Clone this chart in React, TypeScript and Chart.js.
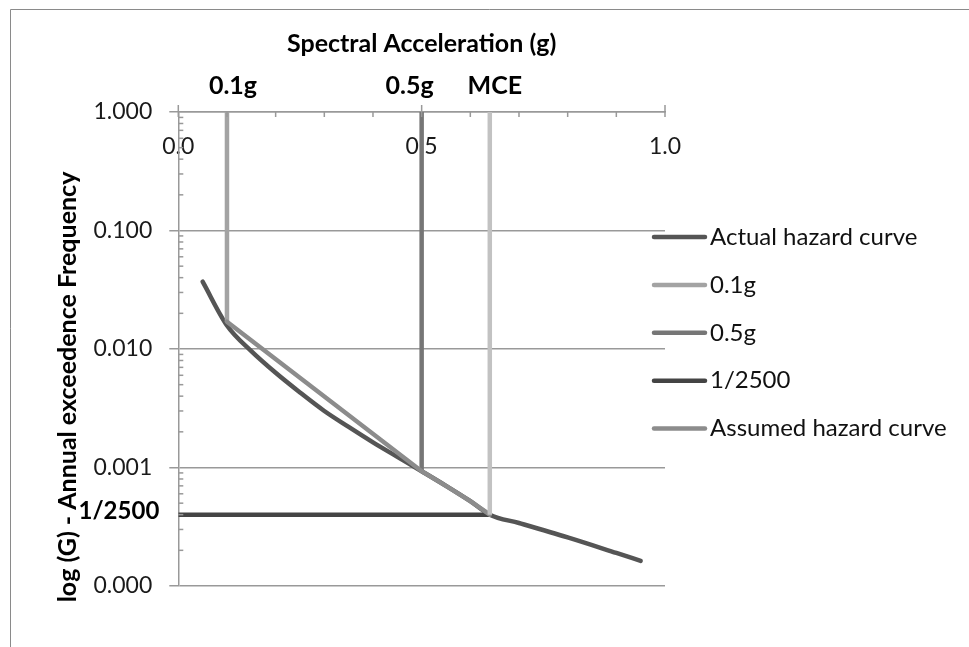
import React, { useEffect, useRef } from 'react';
import { Chart, registerables } from 'chart.js';
Chart.register(...registerables);

// ---- data ----
const accel = [0.05, 0.1, 0.15, 0.2, 0.25, 0.3, 0.35, 0.4, 0.45, 0.5, 0.55, 0.6, 0.64, 0.7, 0.8, 0.9, 0.95];
const actualFreq = [0.037, 0.0158, 0.0096, 0.0063, 0.0043, 0.003, 0.0022, 0.00163, 0.00123, 0.00093, 0.0007, 0.00052, 0.0004, 0.00034, 0.000257, 0.00019, 0.000163];
const assumedAccel = [0.1, 0.5, 0.55, 0.6, 0.64];
const assumedFreq = [0.017, 0.00093, 0.0007, 0.00052, 0.0004];
const markerLabels = ['0.1g', '0.5g', 'MCE'];
const markerAccel = [0.1, 0.5, 0.64];
const markerFreq = [0.017, 0.00093, 0.0004];
const topFreq = 1;
const designFreq = 1 / 2500;
const designLabel = '1/2500';
const yTickValues = [1, 0.1, 0.01, 0.001, 0.0001];
const xTickLabels = ['0.0', '0.5', '1.0'];
const seriesNames = ['Actual hazard curve', '0.1g', '0.5g', '1/2500', 'Assumed hazard curve', 'MCE'];
const xTitle = 'Spectral Acceleration (g)';
const yTitle = 'log (G) - Annual exceedence Frequency';

const FONT = 'Lato';
const isDecade = (v: number) => {
  if (!(v > 0)) return false;
  const l = Math.log10(v);
  return Math.abs(l - Math.round(l)) < 1e-6;
};

const framePlugin = {
  id: 'frame',
  beforeDraw(chart: any) {
    const { ctx, width, height } = chart;
    ctx.save();
    ctx.fillStyle = '#fff';
    ctx.fillRect(0, 0, width, height);
    ctx.strokeStyle = '#8a8a8a';
    ctx.lineWidth = 1;
    ctx.beginPath();
    ctx.moveTo(10.5, height);
    ctx.lineTo(10.5, 9.5);
    ctx.lineTo(width, 9.5);
    ctx.stroke();
    ctx.restore();
  },
};

const extrasPlugin = {
  id: 'extras',
  afterDraw(chart: any) {
    const { ctx, chartArea } = chart;
    const xs = chart.scales.x;
    const ys = chart.scales.y;
    ctx.save();
    ctx.strokeStyle = '#999';
    ctx.lineWidth = 1.5;
    // x axis ticks (top)
    for (let i = 0; i <= 10; i++) {
      const v = i / 10;
      const px = xs.getPixelForValue(v);
      const major = i % 5 === 0;
      ctx.beginPath();
      ctx.moveTo(px, chartArea.top - (major ? 7 : 0));
      ctx.lineTo(px, chartArea.top + 5);
      ctx.stroke();
    }
    // y minor ticks (inside)
    for (let e = -4; e < 0; e++) {
      for (let m = 2; m <= 9; m++) {
        const py = ys.getPixelForValue(m * Math.pow(10, e));
        ctx.beginPath();
        ctx.moveTo(chartArea.left, py);
        ctx.lineTo(chartArea.left + 5, py);
        ctx.stroke();
      }
    }
    // marker labels
    const offs = [6, -12, 5];
    ctx.fillStyle = '#000';
    ctx.font = `bold 25px ${FONT}`;
    ctx.textAlign = 'center';
    ctx.textBaseline = 'middle';
    markerLabels.forEach((lab, i) => {
      ctx.fillText(lab, xs.getPixelForValue(markerAccel[i]) + offs[i], 86);
    });
    // y title
    ctx.save();
    ctx.translate(67.5, 387);
    ctx.rotate(-Math.PI / 2);
    ctx.textAlign = 'center';
    ctx.fillText(yTitle, 0, 0);
    ctx.restore();
    // 1/2500 label
    ctx.font = `bold 24px ${FONT}`;
    ctx.textAlign = 'right';
    ctx.fillText(designLabel, xs.getPixelForValue(0) - 19, ys.getPixelForValue(designFreq) - 3);
    // legend
    const items = chart.data.datasets.filter((d: any) => d.inLegend);
    ctx.font = `24px ${FONT}`;
    ctx.textAlign = 'left';
    ctx.lineCap = 'round';
    items.forEach((d: any, i: number) => {
      const y = 237 + i * 47.9;
      ctx.strokeStyle = d.borderColor;
      ctx.lineWidth = 4.5;
      ctx.beginPath();
      ctx.moveTo(654, y);
      ctx.lineTo(705, y);
      ctx.stroke();
      ctx.fillStyle = '#111';
      ctx.fillText(d.label, 710, y);
    });
    ctx.restore();
  },
};

export default function App() {
  const ref = useRef<HTMLCanvasElement>(null);
  useEffect(() => {
    if (!ref.current) return;
    const pts = (xsArr: number[], ysArr: number[]) => xsArr.map((x, i) => ({ x, y: ysArr[i] }));
    const chart = new Chart(ref.current, {
      type: 'line',
      data: {
        datasets: [
          { label: seriesNames[0], data: pts(accel, actualFreq), borderColor: '#555555', borderWidth: 4.5, cubicInterpolationMode: 'monotone', borderCapStyle: 'round', pointRadius: 0, order: 6, inLegend: true } as any,
          { label: seriesNames[1], data: pts([markerAccel[0], markerAccel[0]], [topFreq, markerFreq[0]]), borderColor: '#a3a3a3', borderWidth: 4.5, pointRadius: 0, order: 5, inLegend: true } as any,
          { label: seriesNames[2], data: pts([markerAccel[1], markerAccel[1]], [topFreq, markerFreq[1]]), borderColor: '#767676', borderWidth: 4.5, pointRadius: 0, order: 4, inLegend: true } as any,
          { label: seriesNames[3], data: pts([0, markerAccel[2]], [designFreq, designFreq]), borderColor: '#444444', borderWidth: 4.5, pointRadius: 0, order: 3, inLegend: true } as any,
          { label: seriesNames[4], data: pts(assumedAccel, assumedFreq), borderColor: '#8c8c8c', borderWidth: 4.5, tension: 0, borderCapStyle: 'round', pointRadius: 0, order: 2, inLegend: true } as any,
          { label: seriesNames[5], data: pts([markerAccel[2], markerAccel[2]], [topFreq, markerFreq[2]]), borderColor: '#c2c2c2', borderWidth: 4.5, pointRadius: 0, order: 1, inLegend: false } as any,
        ],
      },
      options: {
        responsive: false,
        animation: false,
        events: [],
        layout: { padding: { left: 0, top: 0, right: 969 - 665, bottom: 647 - 586 } },
        plugins: { legend: { display: false }, tooltip: { enabled: false } },
        scales: {
          x: {
            type: 'linear',
            position: 'top',
            min: 0,
            max: 1,
            afterFit: (s: any) => { s.height = 112; },
            ticks: {
              stepSize: 0.1,
              autoSkip: false,
              mirror: true,
              padding: 21,
              maxRotation: 0,
              color: '#1a1a1a',
              font: { family: FONT, size: 23 },
              callback: (v: any) => {
                const n = Number(v);
                if (Math.abs(n * 2 - Math.round(n * 2)) < 1e-6) return xTickLabels[Math.round(n * 2)];
                return '';
              },
            },
            grid: { display: false, drawTicks: false },
            border: { display: true, color: '#999', width: 1.5 },
            title: {
              display: true,
              text: xTitle,
              color: '#000',
              font: { family: FONT, size: 25, weight: 'bold' },
              padding: { top: 29, bottom: 0 },
            },
          },
          y: {
            type: 'logarithmic',
            position: 'left',
            min: yTickValues[yTickValues.length - 1],
            max: yTickValues[0],
            afterFit: (s: any) => { s.width = 178.3; },
            ticks: {
              autoSkip: false,
              padding: 17,
              color: '#1a1a1a',
              font: { family: FONT, size: 23 },
              callback: (v: any) => (isDecade(Number(v)) ? Number(v).toFixed(3) : ''),
            },
            grid: {
              color: (c: any) => (c.tick && isDecade(c.tick.value) ? '#999' : 'rgba(0,0,0,0)'),
              lineWidth: 1.5,
              drawTicks: true,
              tickLength: 9,
            },
            border: { display: true, color: '#999', width: 1.5 },
          },
        },
      } as any,
      plugins: [framePlugin, extrasPlugin],
    });
    return () => chart.destroy();
  }, []);
  return (
    <div style={{ position: 'fixed', left: 0, top: 0, width: 969, height: 647, background: '#fff' }}>
      <canvas ref={ref} width={969} height={647} style={{ display: 'block' }} />
    </div>
  );
}
